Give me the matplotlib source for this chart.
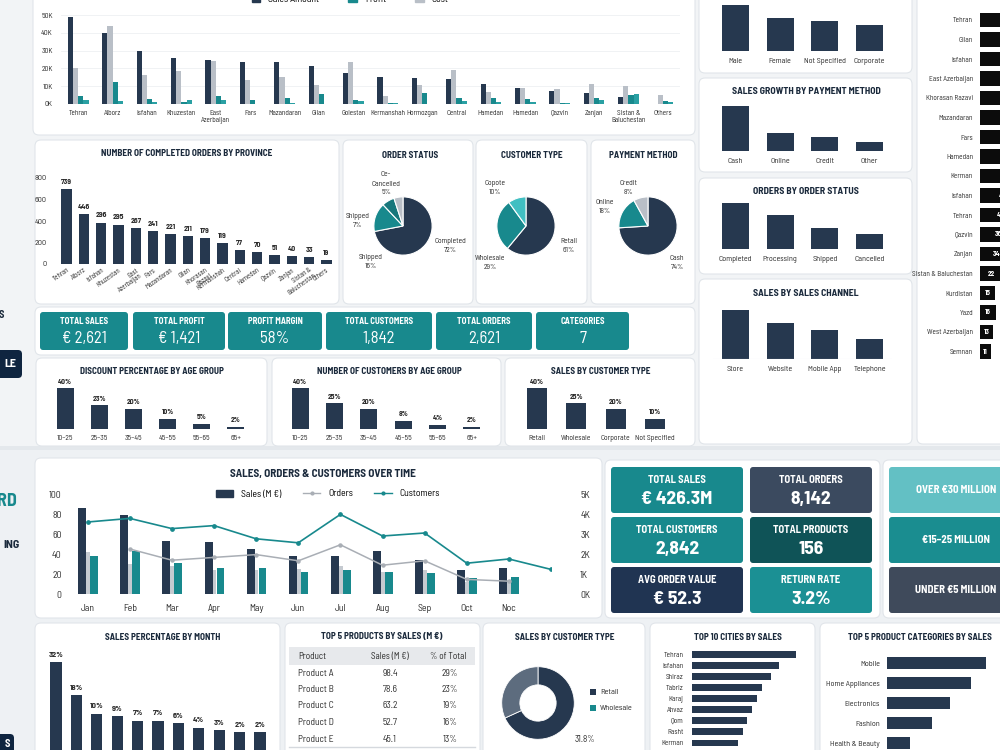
import matplotlib
matplotlib.use('Agg')
import matplotlib.pyplot as plt
from matplotlib.patches import FancyBboxPatch, Rectangle, Patch
from matplotlib.lines import Line2D
import numpy as np

plt.rcParams['font.family'] = ['Barlow Semi Condensed', 'DejaVu Sans']

# ---------------- data ----------------
# sales / cost / profit by province (K)
prov_names = ['Tehran', 'Alborz', 'Isfahan', 'Khuzestan', 'East\nAzerbaijan', 'Fars', 'Mazandaran',
              'Gilan', 'Golestan', 'Kermanshah', 'Hormozgan', 'Central', 'Hamedan', 'Hamedan',
              'Qazvin', 'Zanjan', 'Sistan &\nBaluchestan', 'Others']
prov_sales = [49, 40, 30, 26, 25, 23.5, 23.5, 21.5, 17.5, 15.2, 14.8, 14.2, 11, 9, 7.5, 6.3, 3.8, 0]
prov_cost = [20, 44, 16.5, 18.5, 24, 13.5, 15, 10.8, 23.5, 4.5, 10.7, 19.2, 6.8, 8.8, 8.5, 11.5, 10, 5]
prov_profit = [4.3, 12.5, 3, 1.3, 4.3, 2, 3.6, 5.5, 2, 0.7, 6.2, 3.1, 3.6, 2.7, 0.5, 3.5, 5, 1.5]
prov_profit2 = [2, 1.5, 1, 2, 2.5, 0, 0.3, 0, 1.5, 0.7, 0, 1.5, 1.2, 1.2, 0.3, 2, 5.5, 1]

# completed orders by province
ord_names = ['Tehran', 'Alborz', 'Isfahan', 'Khuzestan', 'East\nAzerbaijan', 'Fars', 'Mazandaran', 'Gilan',
             'Khorasan\nRazavi', 'Kermanshah', 'Central', 'Hamedan', 'Qazvin', 'Zanjan',
             'Sistan &\nBaluchestan', 'Others']
ord_bars = [700, 466, 386, 367, 336, 309, 281, 262, 244, 191, 127, 108, 83, 77, 62, 40]
ord_labels = ['739', '446', '296', '295', '267', '241', '221', '211', '179', '119', '77', '70', '51', '40', '33', '19']

# pies
status_names = ['Completed', 'Shipped', 'Shipped', 'Cancelled']
status_pct = [72, 16, 7, 5]
ctype_names = ['Retail', 'Wholesale', 'Copote']
ctype_pct = [61, 29, 10]
pay_names = ['Cash', 'Online', 'Credit']
pay_pct = [74, 18, 8]

# kpi row
kpi1_labels = ['TOTAL SALES', 'TOTAL PROFIT', 'PROFIT MARGIN', 'TOTAL CUSTOMERS', 'TOTAL ORDERS', 'CATEGORIES']
kpi1_values = ['€ 2,621', '€ 1,421', '58%', '1,842', '2,621', '7']

# age groups
age_groups = ['10–25', '25–35', '35–45', '45–55', '55–65', '65+']
discount_pct = [40, 23, 20, 10, 5, 2]
cust_age_pct = [40, 25, 20, 8, 4, 2]
cust_types = ['Retail', 'Wholesale', 'Corporate', 'Not Specified']
cust_type_pct = [40, 25, 20, 10]

# right column
gender_names = ['Male', 'Female', 'Not Specified', 'Corporate']
gender_vals = [46, 33, 30, 26]
paym_names = ['Cash', 'Online', 'Credit', 'Other']
paym_growth = [45, 18, 14, 9]
ostat_names = ['Completed', 'Processing', 'Shipped', 'Cancelled']
ostat_orders = [46, 34, 21, 15]
channel_names = ['Store', 'Website', 'Mobile App', 'Telephone']
channel_sales = [49, 36, 29, 20]

# far right ranking
fr_names = ['Tehran', 'Gilan', 'Isfahan', 'East Azerbaijan', 'Khorasan Razavi', 'Mazandaran', 'Fars',
            'Hamedan', 'Kerman', 'Isfahan', 'Tehran', 'Qazvin', 'Zanjan', 'Sistan & Baluchestan',
            'Kurdistan', 'Yazd', 'West Azerbaijan', 'Semnan']
fr_vals = [98, 92, 86, 80, 75, 69, 58, 55, 50, 46, 42, 36, 34, 22, 15, 16, 13, 11]

# over time
months = ['Jan', 'Feb', 'Mar', 'Apr', 'May', 'Jun', 'Jul', 'Aug', 'Sep', 'Oct', 'Noc', '']
nan = np.nan
sales_m = [86, 79, 53, 52, 45, 38, 38, 43, 34, 24, 26, nan]
orders_bar = [42, 30, 28, 24, 24, 25, 28, 22, 24, 12, 14, nan]
cust_bar = [38, 43, 31, 26, 26, 22, 24, 22, 21, 16, 17, nan]
orders_line = [nan, 2250, 1690, 1830, 1970, 1660, 2460, 1440, 1660, 730, 640, nan]
cust_line = [3600, 3780, 3270, 3420, 2760, 2560, 3980, 2900, 3050, 1540, 1750, 1230]

# kpi block
kpi2_labels = ['TOTAL SALES', 'TOTAL ORDERS', 'TOTAL CUSTOMERS', 'TOTAL PRODUCTS', 'AVG ORDER VALUE', 'RETURN RATE']
kpi2_values = ['€ 426.3M', '8,142', '2,842', '156', '€ 52.3', '3.2%']
range_labels = ['OVER €30 MILLION', '€15–25 MILLION', 'UNDER €5 MILLION']

# bottom row
month_pct = [32, 18, 10, 9, 7, 7, 6, 4, 3, 2, 2]
products = ['Product A', 'Product B', 'Product C', 'Product D', 'Product E']
prod_sales = [98.4, 78.6, 63.2, 52.7, 45.1]
prod_share = [29, 23, 19, 16, 13]
donut_names = ['Retail', 'Wholesale']
donut_share = [68.2, 31.8]
cities = ['Tehran', 'Isfahan', 'Shiraz', 'Tabriz', 'Karaj', 'Ahvaz', 'Qom', 'Rasht', 'Kerman']
city_sales = [104, 87, 79, 70, 65, 60, 55, 51, 46]
categories = ['Mobile', 'Home Appliances', 'Electronics', 'Fashion', 'Health & Beauty']
cat_sales = [99, 84, 63, 45, 23]

# ---------------- style ----------------
NAVY = '#26384f'
TEAL = '#18898d'
TEAL2 = '#2aa0a3'
LTEAL = '#41bfc2'
GRAY = '#b9bfc7'
TITLE = '#1b2a3c'
TXT = '#2b2b2b'

W, H = 1000, 750
fig = plt.figure(figsize=(10, 7.5), dpi=100)
fig.patch.set_facecolor('#f2f4f6')

bg = fig.add_axes([0, 0, 1, 1])
bg.set_xlim(0, W)
bg.set_ylim(H, 0)
bg.axis('off')


def box(x, y, w, h, fc='white', ec='#e1e5ea', r=6, lw=0.8):
    bg.add_patch(FancyBboxPatch((x, y), w, h, boxstyle=f'round,pad=0,rounding_size={r}',
                                fc=fc, ec=ec, lw=lw))


def ax_at(x, y, w, h):
    a = fig.add_axes([x / W, 1 - (y + h) / H, w / W, h / H])
    a.set_facecolor('none')
    return a


def title(x, y, s, fs=6.6):
    bg.text(x, y, s, ha='center', va='center', fontsize=fs, fontweight='bold', color=TITLE)


def bare(a):
    for s in a.spines.values():
        s.set_visible(False)
    a.tick_params(length=0)


def vbars(x, y, w, h, names, vals, top, width=0.6, fs=5.5, pad=4, labels=None, color=NAVY):
    a = ax_at(x, y, w, h)
    xs = np.arange(len(vals))
    a.bar(xs, vals, width=width, color=color)
    a.set_xlim(-0.5, len(vals) - 0.5)
    a.set_ylim(0, top)
    a.set_xticks(xs)
    a.set_xticklabels(names, fontsize=fs, color=TXT)
    a.set_yticks([])
    bare(a)
    a.tick_params(axis='x', pad=pad)
    if labels is not None:
        for xi, v, t in zip(xs, vals, labels):
            a.annotate(t, (xi, v), xytext=(0, 2.5), textcoords='offset points', ha='center',
                       va='bottom', fontsize=fs, fontweight='bold', color=TXT, annotation_clip=False)
    return a


# section backgrounds
bg.add_patch(Rectangle((0, 449), W, 301, fc='#eef1f4', ec='none'))
bg.add_patch(Rectangle((0, 446), W, 4, fc='#e4e8ec', ec='none'))

# ---------------- top section panels ----------------
box(33, -10, 662, 145)
box(35, 140, 304, 164)
box(343, 140, 130, 164)
box(476, 140, 111, 164)
box(591, 140, 104, 164)
box(35, 307, 660, 48)
box(36, 358, 231, 88)
box(272, 358, 229, 88)
box(505, 358, 190, 88)
box(699, -10, 213, 83)
box(699, 78, 213, 94)
box(699, 178, 213, 96)
box(699, 279, 213, 165)
box(917, -10, 100, 454)

# left strip fragments
bg.text(-1, 315, 'S', ha='left', va='center', fontsize=7.5, fontweight='bold', color='#1b2a3c')
box(-8, 350, 30, 28, fc='#0f2540', ec='none', r=4)
bg.text(16, 364, 'LE', ha='right', va='center', fontsize=8.5, fontweight='bold', color='white')
bg.text(17, 502, 'RD', ha='right', va='center', fontsize=13, fontweight='bold', color=TEAL)
bg.text(20, 545, 'ING', ha='right', va='center', fontsize=8.5, fontweight='bold', color='#1b2a3c')
box(-8, 734, 22, 26, fc='#0f2540', ec='none', r=4)
bg.text(10, 744, 'S', ha='right', va='center', fontsize=7.5, fontweight='bold', color='white')

# ---- sales / profit / cost by province ----
a = ax_at(61, 15, 619, 89)
xs = np.arange(len(prov_names))
bw = 0.15
a.bar(xs - 1.5 * bw, prov_sales, bw, color=NAVY)
a.bar(xs - 0.5 * bw, prov_cost, bw, color=GRAY)
a.bar(xs + 0.5 * bw, prov_profit, bw, color=TEAL)
a.bar(xs + 1.5 * bw, prov_profit2, bw, color=TEAL2)
a.set_xlim(-0.5, len(prov_names) - 0.5)
a.set_ylim(0, 50)
a.set_yticks([0, 10, 20, 30, 40, 50])
a.set_yticklabels(['0K', '10K', '20K', '30K', '40K', '50K'], fontsize=5.5, color=TXT)
a.set_xticks(xs)
a.set_xticklabels(prov_names, fontsize=5.2, color=TXT, linespacing=1.1)
a.grid(axis='y', color='#eef0f2', lw=0.6)
a.set_axisbelow(True)
bare(a)
a.tick_params(axis='x', pad=4)
a.tick_params(axis='y', pad=6)
fig.legend(handles=[Patch(color=NAVY, label='Sales Amount'), Patch(color=TEAL, label='Profit'),
                    Patch(color=GRAY, label='Cost')],
           loc='center', bbox_to_anchor=(350 / W, 1 + 1 / H), ncol=3, frameon=False, fontsize=7,
           handlelength=0.9, handleheight=0.9, columnspacing=3)

# ---- completed orders by province ----
title(187, 154, 'NUMBER OF COMPLETED ORDERS BY PROVINCE')
a = ax_at(58, 178, 277, 86)
xs = np.arange(len(ord_bars))
a.bar(xs, ord_bars, width=0.6, color=NAVY)
a.set_xlim(-0.5, len(ord_bars) - 0.5)
a.set_ylim(0, 800)
a.set_yticks([0, 200, 400, 600, 800])
a.set_yticklabels(['0', '200', '400', '600', '800'], fontsize=5.8, color=TXT)
a.set_xticks(xs)
a.set_xticklabels(ord_names, fontsize=4.9, color=TXT, rotation=35, ha='right',
                  rotation_mode='anchor', linespacing=1.0)
bare(a)
a.tick_params(axis='x', pad=2)
a.tick_params(axis='y', pad=8)
for xi, v, t in zip(xs, ord_bars, ord_labels):
    a.annotate(t, (xi, v), xytext=(0, 3), textcoords='offset points', ha='center', va='bottom',
               fontsize=5.6, fontweight='bold', color=TXT, annotation_clip=False)

# ---- pies ----
def pie(cx, cy, r, vals, colors):
    p = ax_at(cx - r, cy - r, 2 * r, 2 * r)
    p.pie(vals, colors=colors, startangle=90, counterclock=False,
          wedgeprops=dict(edgecolor='white', linewidth=0.8))
    p.set_xlim(-1.03, 1.03)
    p.set_ylim(-1.03, 1.03)
    p.set_aspect('equal')
    return p


def plabel(x, y, s):
    bg.text(x, y, s, ha='center', va='center', fontsize=5.5, color=TXT, linespacing=1.4)


title(410, 155, 'ORDER STATUS')
pie(403, 226, 30, status_pct, [NAVY, TEAL, '#17777b', GRAY])
plabel(450, 246, f'{status_names[0]}\n{status_pct[0]}%')
plabel(371, 262, f'{status_names[1]}\n{status_pct[1]}%')
plabel(358, 221, f'{status_names[2]}\n{status_pct[2]}%')
plabel(386, 184, f'Ce-\n{status_names[3]}\n{status_pct[3]}%')

title(532, 155, 'CUSTOMER TYPE')
pie(526, 226, 30, ctype_pct, [NAVY, TEAL, LTEAL])
plabel(569, 246, f'{ctype_names[0]}\n{ctype_pct[0]}%')
plabel(490, 263, f'{ctype_names[1]}\n{ctype_pct[1]}%')
plabel(495, 188, f'{ctype_names[2]}\n{ctype_pct[2]}%')

title(643, 155, 'PAYMENT METHOD')
pie(648, 226, 30, pay_pct, [NAVY, TEAL, GRAY])
plabel(677, 263, f'{pay_names[0]}\n{pay_pct[0]}%')
plabel(605, 207, f'{pay_names[1]}\n{pay_pct[1]}%')
plabel(628, 188, f'{pay_names[2]}\n{pay_pct[2]}%')

# ---- KPI row ----
kpi_x = [40, 133, 228, 326, 436, 536]
kpi_w = [88, 92, 94, 106, 96, 93]
for x0, w0, lab, val in zip(kpi_x, kpi_w, kpi1_labels, kpi1_values):
    box(x0, 312, w0, 38, fc=TEAL, ec='none', r=3)
    bg.text(x0 + w0 / 2, 322, lab, ha='center', va='center', fontsize=6.3, fontweight='bold', color='white')
    bg.text(x0 + w0 / 2, 338.5, val, ha='center', va='center', fontsize=12, color='white')

# ---- age group charts ----
title(152, 371, 'DISCOUNT PERCENTAGE BY AGE GROUP')
vbars(48, 388, 205, 41, age_groups, discount_pct, 40, width=0.5, fs=5.5, pad=4,
      labels=[f'{v}%' for v in discount_pct])
title(389, 371, 'NUMBER OF CUSTOMERS BY AGE GROUP')
vbars(283, 388, 206, 41, age_groups, cust_age_pct, 40, width=0.5, fs=5.5, pad=4,
      labels=[f'{v}%' for v in cust_age_pct])
title(601, 371, 'SALES BY CUSTOMER TYPE')
vbars(517, 388, 158, 41, cust_types, cust_type_pct, 40, width=0.5, fs=5.5, pad=4,
      labels=[f'{v}%' for v in cust_type_pct])

# ---- right column ----
vbars(713, 1, 179, 50, gender_names, gender_vals, 50, fs=5.8, pad=5)
title(806, 92, 'SALES GROWTH BY PAYMENT METHOD', fs=7)
vbars(713, 101, 179, 50, paym_names, paym_growth, 50, fs=5.8, pad=5)
title(806, 191, 'ORDERS BY ORDER STATUS', fs=7)
vbars(713, 199, 179, 50, ostat_names, ostat_orders, 50, fs=5.8, pad=5)
title(806, 293, 'SALES BY SALES CHANNEL', fs=7)
a = vbars(713, 309, 179, 50, channel_names, channel_sales, 50, fs=5.8, pad=5)
a.axhline(0, color='#e8eaed', lw=0.8)

# ---- far right ranking ----
a = ax_at(980, 10.25, 200, 351)
ys = np.arange(len(fr_vals))
a.barh(ys, fr_vals, height=0.75, color='#0c0c0c')
a.set_ylim(len(fr_vals) - 0.5, -0.5)
a.set_xlim(0, 200)
a.set_yticks(ys)
a.set_yticklabels(fr_names, fontsize=5.3, color=TXT)
a.set_xticks([])
bare(a)
a.tick_params(axis='y', pad=5)
for yi, v in zip(ys, fr_vals):
    a.text(v / 2, yi, str(v), ha='center', va='center', fontsize=5.3, fontweight='bold', color='white')

# ---------------- bottom section ----------------
box(35, 458, 567, 160)
box(605, 460, 275, 158)
box(883, 460, 130, 158)
box(35, 623, 245, 140)
box(285, 623, 195, 140)
box(483, 623, 162, 140)
box(650, 623, 165, 140)
box(820, 623, 190, 140)

# ---- sales, orders & customers over time ----
title(323, 474, 'SALES, ORDERS & CUSTOMERS OVER TIME', fs=8)
a = ax_at(70, 494, 481, 100)
xs = np.arange(len(months))
a.bar(xs - 0.13, sales_m, 0.19, color=NAVY, zorder=2)
a.bar(xs + 0.01, orders_bar, 0.09, color='#c5cad0', zorder=1)
a.bar(xs + 0.15, cust_bar, 0.18, color=TEAL, zorder=2)
a.set_xlim(-0.42, 10.48)
a.set_ylim(0, 100)
a.set_yticks([0, 20, 40, 60, 80, 100])
a.set_yticklabels(['0', '20', '40', '60', '80', '100'], fontsize=7, color=TXT)
a.set_xticks(xs)
a.set_xticklabels(months, fontsize=7, color=TXT)
bare(a)
a.tick_params(axis='x', pad=7)
a.tick_params(axis='y', pad=6)
a2 = a.twinx()
a2.plot(xs, orders_line, color='#a9aeb5', lw=1.1, marker='o', ms=2.2, zorder=3)
a2.plot(xs, cust_line, color=TEAL, lw=1.2, marker='o', ms=2.4, zorder=4)
a2.set_ylim(0, 5000)
a2.set_yticks([0, 1000, 2000, 3000, 4000, 5000])
a2.set_yticklabels(['0K', '1K', '2K', '3K', '4K', '5K'], fontsize=7, color=TXT)
bare(a2)
a2.tick_params(axis='y', pad=21)
fig.legend(handles=[Patch(color=NAVY, label='Sales (M €)'),
                    Line2D([], [], color='#a9aeb5', marker='o', ms=2, lw=1, label='Orders'),
                    Line2D([], [], color=TEAL, marker='o', ms=2, lw=1, label='Customers')],
           loc='center', bbox_to_anchor=(328 / W, 1 - 494 / H), ncol=3, frameon=False, fontsize=7,
           handlelength=1.8, columnspacing=2.2)

# ---- KPI block ----
kpi2_colors = [TEAL, '#3b4a5f', TEAL, '#0f5357', '#203452', '#1b9094']
kpi2_pos = [(611, 467), (750, 467), (611, 517), (750, 517), (611, 567), (750, 567)]
for (x0, y0), lab, val, c in zip(kpi2_pos, kpi2_labels, kpi2_values, kpi2_colors):
    w0 = 132 if x0 < 700 else 122
    box(x0, y0, w0, 46, fc=c, ec='none', r=3)
    bg.text(x0 + w0 / 2, y0 + 13, lab, ha='center', va='center', fontsize=7.6, fontweight='bold', color='white')
    bg.text(x0 + w0 / 2, y0 + 32.5, val, ha='center', va='center', fontsize=14, fontweight='bold', color='white')

range_colors = ['#63c0c4', '#1a8d90', '#3f4a5b']
for i, (lab, c) in enumerate(zip(range_labels, range_colors)):
    y0 = 467 + 50 * i
    box(889, y0, 130, 46, fc=c, ec='none', r=3)
    bg.text(956, y0 + 23, lab, ha='center', va='center', fontsize=7.8, fontweight='bold', color='white')

# ---- sales percentage by month ----
title(163, 637, 'SALES PERCENTAGE BY MONTH')
a = ax_at(45.8, 662, 224.4, 89)
xs = np.arange(len(month_pct))
floor = -6
a.bar(xs, np.array(month_pct) - floor, bottom=floor, width=0.54, color=NAVY)
a.set_xlim(-0.5, len(month_pct) - 0.5)
a.set_ylim(floor, 32)
a.set_xticks([])
a.set_yticks([])
bare(a)
for xi, v in zip(xs, month_pct):
    a.annotate(f'{v}%', (xi, v), xytext=(0, 3), textcoords='offset points', ha='center', va='bottom',
               fontsize=6, fontweight='bold', color=TXT, annotation_clip=False)

# ---- top 5 products table ----
title(382, 637, 'TOP 5 PRODUCTS BY SALES (M €)')
bg.add_patch(Rectangle((289, 647), 186, 18, fc='#e7e9ec', ec='none'))
bg.text(298, 656.5, 'Product', ha='left', va='center', fontsize=6.6, color=TXT)
bg.text(390, 656.5, 'Sales (M €)', ha='center', va='center', fontsize=6.6, color=TXT)
bg.text(448, 656.5, '% of Total', ha='center', va='center', fontsize=6.6, color=TXT)
for i, (p, s, sh) in enumerate(zip(products, prod_sales, prod_share)):
    yy = 673 + 16.5 * i
    bg.text(298, yy, p, ha='left', va='center', fontsize=6.8, color=TXT)
    bg.text(390, yy, f'{s:.1f}', ha='center', va='center', fontsize=6.8, color=TXT)
    bg.text(450, yy, f'{sh}%', ha='center', va='center', fontsize=6.8, color=TXT)
bg.plot([289, 475], [747, 747], color='#d5d9de', lw=1)

# ---- donut ----
title(565, 637, 'SALES BY CUSTOMER TYPE')
d = ax_at(501, 666, 74, 74)
d.pie(donut_share, colors=[NAVY, '#5d6c7e'], startangle=90, counterclock=False,
      wedgeprops=dict(width=0.5, edgecolor='white', linewidth=0.6))
d.set_xlim(-1.02, 1.02)
d.set_ylim(-1.02, 1.02)
d.set_aspect('equal')
for i, (nm, c) in enumerate(zip(donut_names, [NAVY, TEAL])):
    bg.add_patch(Rectangle((590, 689 + 16 * i), 6, 6, fc=c, ec='none'))
    bg.text(600, 692 + 16 * i, nm, ha='left', va='center', fontsize=6, color=TXT)
bg.text(585, 740, f'{donut_share[1]}%', ha='center', va='center', fontsize=6.5, color=TXT)

# ---- top 10 cities ----
title(738, 637, 'TOP 10 CITIES BY SALES')
a = ax_at(692, 648.5, 115, 100)
ys = np.arange(len(cities))
a.barh(ys, city_sales, height=0.62, color=NAVY)
a.set_ylim(len(cities) - 0.5, -0.5)
a.set_xlim(0, 115)
a.set_yticks(ys)
a.set_yticklabels(cities, fontsize=5.3, color=TXT)
a.set_xticks([])
bare(a)
a.tick_params(axis='y', pad=6)

# ---- top 5 categories ----
title(920, 637, 'TOP 5 PRODUCT CATEGORIES BY SALES')
a = ax_at(887, 653, 115, 100)
ys = np.arange(len(categories))
a.barh(ys, cat_sales, height=0.63, color=NAVY)
a.set_ylim(len(categories) - 0.5, -0.5)
a.set_xlim(0, 115)
a.set_yticks(ys)
a.set_yticklabels(categories, fontsize=5.8, color=TXT)
a.set_xticks([])
bare(a)
a.tick_params(axis='y', pad=5)

fig.savefig('out.png', dpi=100, facecolor=fig.get_facecolor())
